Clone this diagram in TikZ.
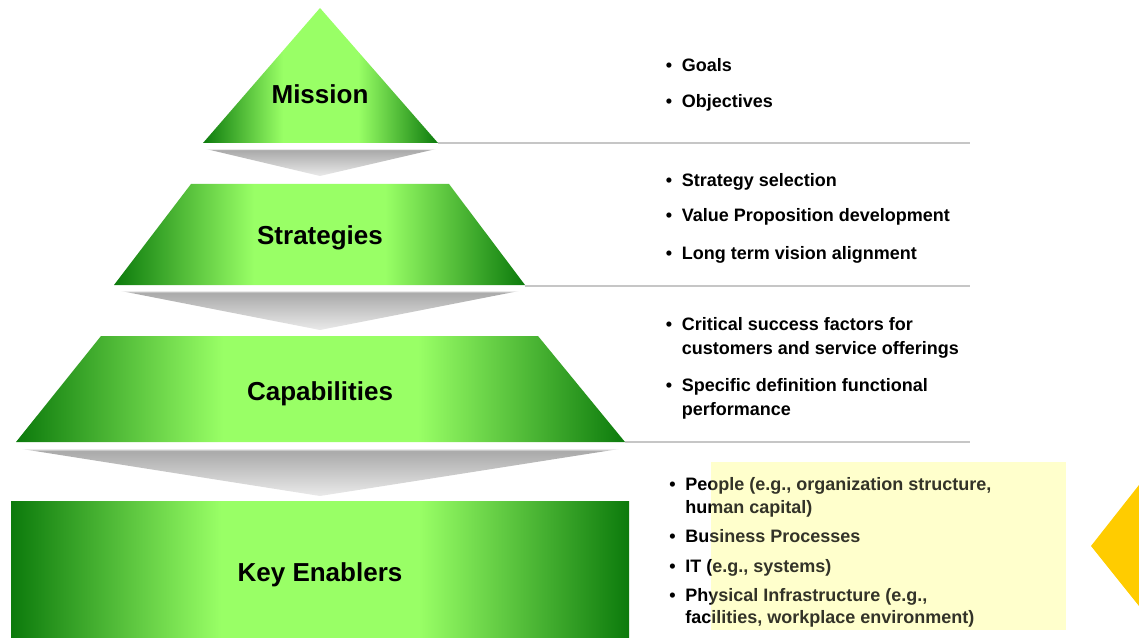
\documentclass[tikz,border=0pt]{standalone}
\usepackage{fontspec}
\setmainfont{Liberation Sans}
\definecolor{dkgreen}{RGB}{12,122,12}
\definecolor{ltgreen}{RGB}{153,255,102}
\definecolor{graytop}{RGB}{172,172,172}
\definecolor{graytip}{RGB}{234,234,234}
\definecolor{rulegray}{RGB}{198,198,198}
\definecolor{paleyellow}{RGB}{255,255,204}
\definecolor{gold}{RGB}{255,204,0}
\pgfdeclarehorizontalshading{greenbar}{100bp}{color(0bp)=(dkgreen); color(25bp)=(dkgreen); color(42bp)=(ltgreen); color(58bp)=(ltgreen); color(75bp)=(dkgreen); color(100bp)=(dkgreen)}
\pgfdeclareverticalshading{grayfall}{100bp}{color(0bp)=(graytip); color(25bp)=(graytip); color(71bp)=(graytop); color(73bp)=(graytop); color(75bp)=(graytip); color(100bp)=(graytip)}
\newcommand{\itembul}{\llap{•\kern7.2pt}}

\begin{document}
\begin{tikzpicture}[x=0.75pt,y=0.75pt,yscale=-1,xscale=1,
  tierlbl/.style={anchor=base,inner sep=0pt,font=\fontsize{19.5}{23}\selectfont\bfseries},
  pointtxt/.style={anchor=base west,inner sep=0pt,font=\fontsize{13.5}{18}\selectfont\bfseries}]
\useasboundingbox (0,0) rectangle (1139,638);

%Shape: Triangle
\shade [shading=greenbar] (320,8) -- (438,143) -- (203,143) -- cycle ;
%Shape: Chevron
\shade [shading=grayfall] (206,149) -- (436,149) -- (320,176) -- cycle ;
%Shape: Trapezoid
\shade [shading=greenbar] (191,184) -- (449,184) -- (525,285) -- (114,285) -- cycle ;
%Shape: Chevron
\shade [shading=grayfall] (121,291) -- (519,291) -- (320,330) -- cycle ;
%Shape: Trapezoid
\shade [shading=greenbar] (101,336) -- (538,336) -- (625,442) -- (16,442) -- cycle ;
%Shape: Chevron
\shade [shading=grayfall] (22,449) -- (619,449) -- (320,496) -- cycle ;
%Shape: Rectangle
\shade [shading=greenbar] (11,501) rectangle (629,638) ;

%Straight Lines
\draw [color=rulegray, line width=1.5pt] (438,143.5) -- (970,143.5) ;
\draw [color=rulegray, line width=1.5pt] (525,285.5) -- (970,285.5) ;
\draw [color=rulegray, line width=1.5pt] (625,442) -- (970,442) ;

%Shape: Rectangle
\fill [color=paleyellow] (711,462) rectangle (1066,630) ;
%Shape: Triangle
\fill [color=gold] (1091,546) -- (1139,485) -- (1139,606) -- cycle ;

% Text Node
\node (mission) [tierlbl] at (320,104) {Mission};
\node (strategies) [tierlbl] at (320,244) {Strategies};
\node (capabilities) [tierlbl] at (320,400) {Capabilities};
\node (enablers) [tierlbl] at (320,581) {Key Enablers};

% Text Node
\node (goals) [pointtxt] at (681.5,71.5) {\itembul Goals};
\node (objectives) [pointtxt] at (681.5,108) {\itembul Objectives};
\node (selection) [pointtxt] at (681.5,186.5) {\itembul Strategy selection};
\node (valueprop) [pointtxt] at (681.5,222) {\itembul Value Proposition development};
\node (vision) [pointtxt] at (681.5,259) {\itembul Long term vision alignment};
\node (critical) [pointtxt] at (681.5,330) {\itembul Critical success factors for};
\node (critical2) [pointtxt] at (681.5,354) {customers and service offerings};
\node (specific) [pointtxt] at (681.5,391.5) {\itembul Specific definition functional};
\node (specific2) [pointtxt] at (681.5,415) {performance};

% Text Node
\node (people) [pointtxt] at (685,490) {\itembul People (e.g., organization structure,};
\node (people2) [pointtxt] at (685,513) {human capital)};
\node (process) [pointtxt] at (685,542) {\itembul Business Processes};
\node (systems) [pointtxt] at (685,572) {\itembul IT (e.g., systems)};
\node (infra) [pointtxt] at (685,601) {\itembul Physical Infrastructure (e.g.,};
\node (infra2) [pointtxt] at (685,623.5) {facilities, workplace environment)};

%Shape: Rectangle
\fill [color=paleyellow, opacity=0.2] (711,462) rectangle (1066,630) ;
\end{tikzpicture}
\end{document}
